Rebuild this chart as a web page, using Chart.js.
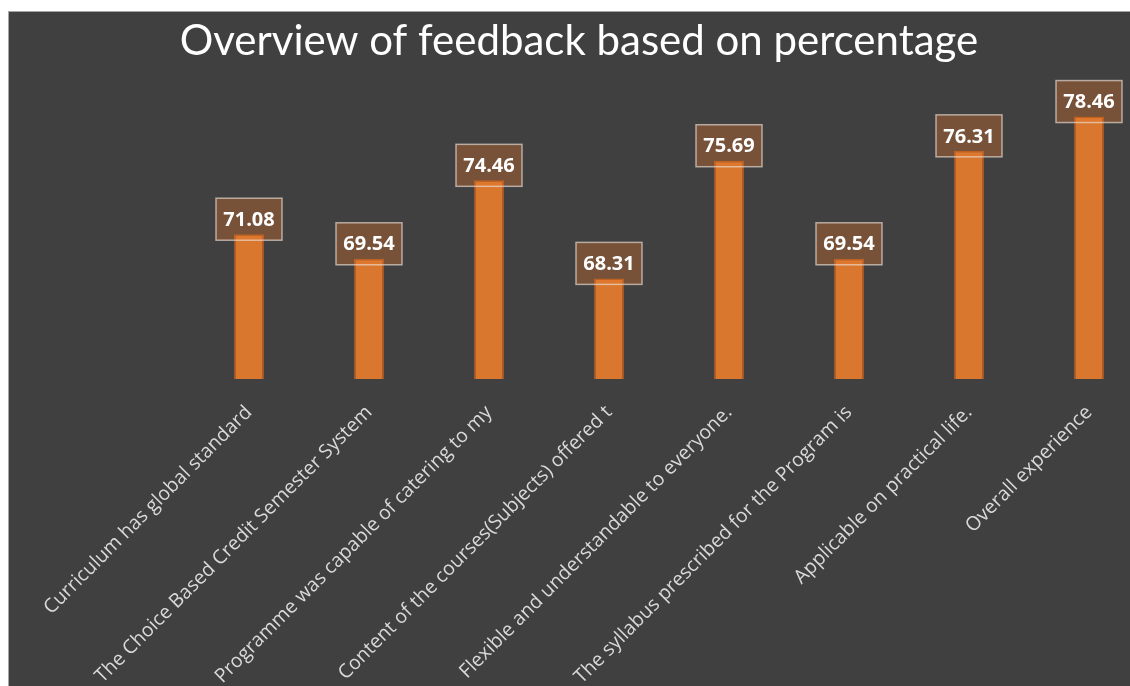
<!DOCTYPE html>
<html>
<head>
<meta charset="utf-8">
<script src="https://cdn.jsdelivr.net/npm/chart.js@4.4.0/dist/chart.umd.min.js"></script>
<style>
  html, body { margin: 0; padding: 0; background: #ffffff; overflow: hidden; width: 1130px; height: 686px; }
  #frame { position: absolute; left: 8px; top: 11px; width: 1200px; height: 700px; background: #404040; border-left: 1px solid #a6a6a6; border-top: 1px solid #a6a6a6; }
  #c { position: absolute; left: 9px; top: 12px; }
</style>
</head>
<body>
<div id="frame"></div>
<canvas id="c" width="1150" height="674"></canvas>
<script>
const categories = [
  "Curriculum has global standard",
  "The Choice Based Credit Semester System",
  "Programme was capable of catering to my",
  "Content of the courses(Subjects) offered t",
  "Flexible and understandable to everyone.",
  "The syllabus prescribed for the Program is",
  "Applicable on practical life.",
  "Overall experience"
];
const percentages = [71.08, 69.54, 74.46, 68.31, 75.69, 69.54, 76.31, 78.46];
const titleText = "Overview of feedback based on percentage";
const yMin = 62;
const yMax = 80;

const labelBoxes = {
  id: 'labelBoxes',
  afterDatasetsDraw(chart) {
    const ctx = chart.ctx;
    const meta = chart.getDatasetMeta(0);
    ctx.save();
    ctx.font = 'bold 20px "Open Sans", sans-serif';
    ctx.textAlign = 'center';
    ctx.textBaseline = 'middle';
    meta.data.forEach((bar, i) => {
      const txt = percentages[i].toFixed(2);
      const w = 66, h = 42;
      const cx = bar.x, cy = bar.y - 15;
      ctx.fillStyle = 'rgba(236,120,44,0.32)';
      ctx.fillRect(cx - w / 2, cy - h / 2, w, h);
      ctx.strokeStyle = 'rgba(235,225,215,0.65)';
      ctx.lineWidth = 1.5;
      ctx.strokeRect(cx - w / 2, cy - h / 2, w, h);
      ctx.fillStyle = '#ffffff';
      ctx.fillText(txt, cx, cy + 1);
    });
    ctx.restore();
  }
};

new Chart(document.getElementById('c'), {
  type: 'bar',
  data: {
    labels: categories,
    datasets: [{
      data: percentages,
      backgroundColor: '#d9772f',
      borderColor: '#a9541c',
      borderWidth: 1.5,
      categoryPercentage: 1,
      barPercentage: 0.25
    }]
  },
  options: {
    responsive: false,
    animation: false,
    devicePixelRatio: 1,
    layout: { padding: { left: 0, right: 10, top: 0, bottom: 0 } },
    plugins: {
      legend: { display: false },
      tooltip: { enabled: false },
      title: {
        display: true,
        text: titleText,
        color: '#ffffff',
        font: { family: 'Lato', size: 42, weight: 'normal', lineHeight: 1.2 },
        padding: { top: 4, bottom: 25.6 }
      }
    },
    scales: {
      x: {
        grid: { display: false },
        border: { display: false },
        ticks: {
          color: '#d9d9d9',
          font: { family: '"Open Sans"', size: 19.5 },
          minRotation: 45,
          maxRotation: 45,
          autoSkip: false,
          padding: 14
        },
        afterFit(scale) { scale.height = 307; }
      },
      y: {
        min: yMin,
        max: yMax,
        grid: { display: false },
        border: { display: false },
        ticks: { display: false },
        afterFit(scale) { scale.width = 180; }
      }
    }
  },
  plugins: [labelBoxes]
});
</script>
</body>
</html>
